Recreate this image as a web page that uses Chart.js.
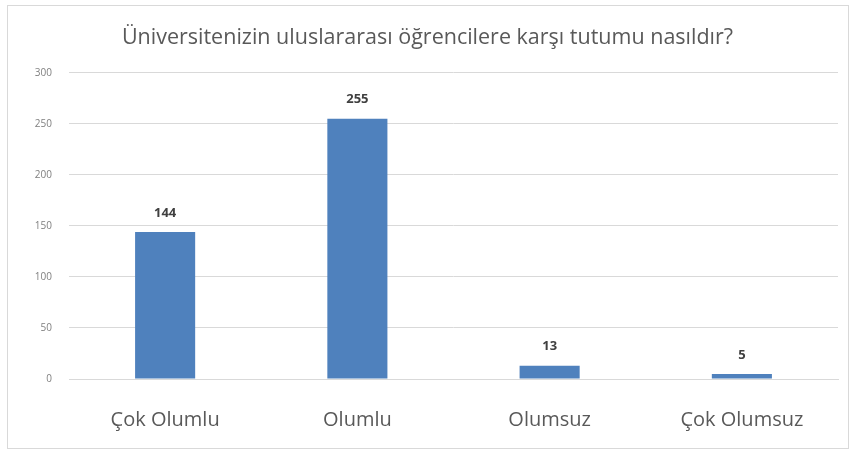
<!DOCTYPE html>
<html>
<head>
<meta charset="utf-8">
<script src="https://cdn.jsdelivr.net/npm/chart.js@4"></script>
<style>
  html, body { margin: 0; padding: 0; background: #fff; }
  #wrap { width: 850px; height: 455px; position: relative; }
</style>
</head>
<body>
<div id="wrap"><canvas id="chart"></canvas></div>
<script>
// chart data
const titleText = 'Üniversitenizin uluslararası öğrencilere karşı tutumu nasıldır?';
const categories = ['Çok Olumlu', 'Olumlu', 'Olumsuz', 'Çok Olumsuz'];
const counts = [144, 255, 13, 5];
const yTicks = [0, 50, 100, 150, 200, 250, 300];

const FONT = "'Open Sans', 'Noto Sans', sans-serif";

// frame around the whole chart
const framePlugin = {
  id: 'frame',
  beforeDraw(c) {
    const ctx = c.ctx;
    ctx.save();
    ctx.strokeStyle = '#d9d9d9';
    ctx.lineWidth = 1;
    ctx.strokeRect(7.5, 5.5, 841, 443);
    ctx.restore();
  }
};

// value labels over each bar
const valueLabels = {
  id: 'valueLabels',
  afterDatasetsDraw(c) {
    const ctx = c.ctx;
    const meta = c.getDatasetMeta(0);
    ctx.save();
    ctx.font = "bold 13px " + FONT;
    ctx.fillStyle = '#404040';
    ctx.textAlign = 'center';
    ctx.textBaseline = 'middle';
    meta.data.forEach((bar, i) => {
      ctx.fillText(counts[i], bar.x, bar.y - 19);
    });
    ctx.restore();
  }
};

new Chart(document.getElementById('chart'), {
  type: 'bar',
  data: {
    labels: categories,
    datasets: [{
      data: counts,
      backgroundColor: '#4f81bd',
      barPercentage: 0.3125,
      categoryPercentage: 1
    }]
  },
  options: {
    responsive: true,
    maintainAspectRatio: false,
    animation: false,
    layout: { padding: { left: 17, right: 12, top: 0, bottom: 0 } },
    plugins: {
      legend: { display: false },
      tooltip: { enabled: false },
      title: {
        display: true,
        text: titleText,
        color: '#595959',
        font: { size: 21.5, family: FONT, weight: 'normal' },
        padding: { top: 25, bottom: 22 }
      }
    },
    scales: {
      x: {
        grid: { display: false, drawTicks: false },
        border: { color: '#d9d9d9' },
        ticks: {
          color: '#595959',
          font: { size: 20, family: FONT },
          padding: 29,
          maxRotation: 0
        },
        afterFit(s) { s.height = 76; }
      },
      y: {
        min: 0,
        max: 300,
        afterBuildTicks(s) { s.ticks = yTicks.map(v => ({ value: v })); },
        grid: { color: '#d9d9d9', drawTicks: false },
        border: { display: false },
        ticks: {
          color: '#7f7f7f',
          font: { size: 10, family: FONT },
          padding: 17
        },
        afterFit(s) { s.width = 52; }
      }
    }
  },
  plugins: [framePlugin, valueLabels]
});
</script>
</body>
</html>
